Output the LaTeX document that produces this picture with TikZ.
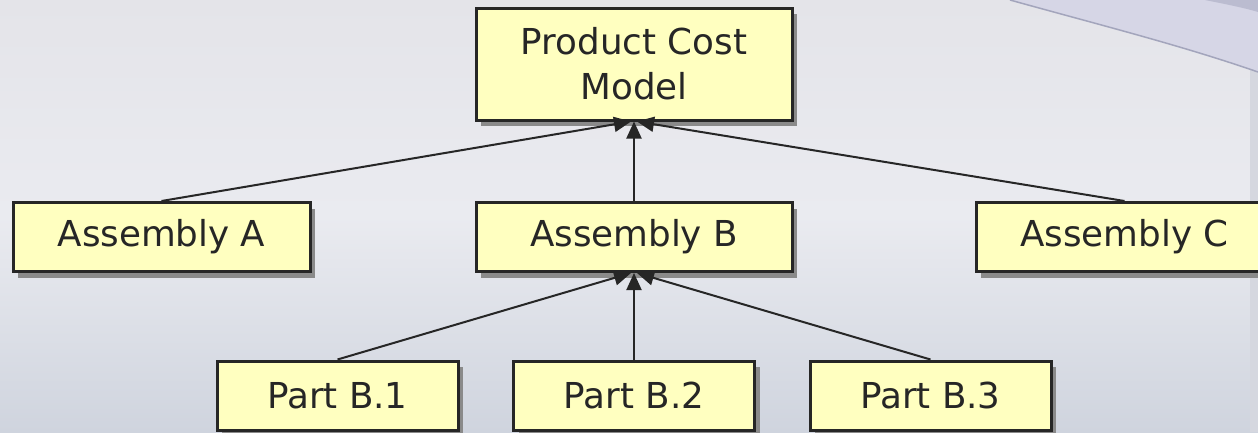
\documentclass[tikz,border=0pt]{standalone}
\usepackage{fontspec}
\setmainfont{DejaVu Sans}
\usetikzlibrary{shadows,arrows.meta}

\definecolor{boxfill}{HTML}{FFFFC0}
\definecolor{boxline}{HTML}{262626}
\definecolor{shadowgray}{HTML}{8A8A8A}
\definecolor{bgtop}{HTML}{E4E4E9}
\definecolor{bgmid}{HTML}{EAEBF0}
\definecolor{bgbot}{HTML}{CFD4DE}
\definecolor{swoosh}{HTML}{D6D6E6}
\definecolor{swooshdark}{HTML}{BBBCD0}
\definecolor{swooshedge}{HTML}{A3A5BC}
\definecolor{sidestrip}{HTML}{D5D7DF}

\tikzset{
  costbox/.style={
    rectangle, draw=boxline, line width=3pt, fill=boxfill,
    text=boxline, align=center, inner sep=0pt,
    font=\fontsize{35.7pt}{45pt}\selectfont,
    drop shadow={shadow xshift=5pt, shadow yshift=-6pt, fill=shadowgray, opacity=1}
  },
  link/.style={draw=boxline, line width=2pt,
    -{Triangle[length=17pt,width=15pt]}}
}

\begin{document}
\begin{tikzpicture}[x=1pt,y=-1pt]
  \useasboundingbox (0,0) rectangle (1258,432);
  \clip (0,0) rectangle (1258,432);

  % backdrop
  \shade[top color=bgtop, bottom color=bgbot, middle color=bgmid]
    (0,0) rectangle (1258,432);
  \fill[sidestrip] (1250,70) rectangle (1258,432);
  \fill[swoosh] (1010,0) .. controls (1100,25) and (1180,45) .. (1258,72)
    -- (1258,0) -- cycle;
  \fill[swooshdark] (1205,0) .. controls (1225,4) and (1245,8) .. (1258,12)
    -- (1258,0) -- cycle;
  \draw[swooshedge, line width=1.5pt] (1010,0) .. controls (1100,25) and (1180,45) .. (1258,72);

  % nodes
  \node[costbox, minimum width=316pt, minimum height=112pt] (pcm) at (634,64) {Product Cost\\Model};

  \node[costbox, minimum width=297pt, minimum height=69pt] (asmA) at (161.5,237) {Assembly A};
  \node[costbox, minimum width=316pt, minimum height=69pt] (asmB) at (634,237) {Assembly B};
  \node[costbox, minimum width=297pt, minimum height=69pt] (asmC) at (1124.5,237) {Assembly C};

  \node[costbox, minimum width=241pt, minimum height=69pt] (p1) at (337.5,395.5) {Part B.1};
  \node[costbox, minimum width=241pt, minimum height=69pt] (p2) at (634,395.5) {Part B.2};
  \node[costbox, minimum width=241pt, minimum height=69pt] (p3) at (930.5,395.5) {Part B.3};

  % connectors
  \draw[link] (asmA.north) -- ([xshift=-3pt]pcm.south);
  \draw[link] (asmB.north) -- (pcm.south);
  \draw[link] (asmC.north) -- ([xshift=3pt]pcm.south);

  \draw[link] (p1.north) -- ([xshift=-3pt]asmB.south);
  \draw[link] (p2.north) -- (asmB.south);
  \draw[link] (p3.north) -- ([xshift=3pt]asmB.south);
\end{tikzpicture}
\end{document}
